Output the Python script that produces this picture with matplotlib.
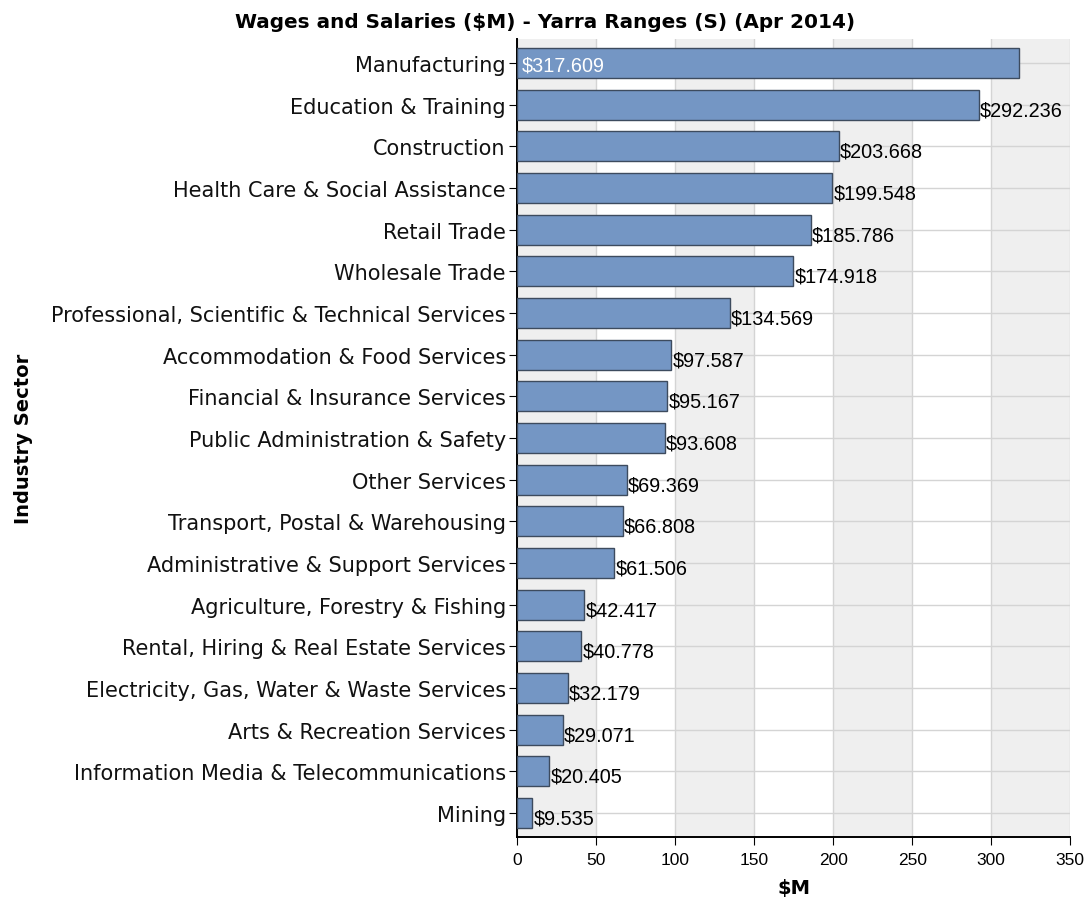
import matplotlib
matplotlib.use("Agg")
import matplotlib.pyplot as plt
import numpy as np

plt.rcParams["font.family"] = ["DejaVu Sans"]

sectors = [
    "Manufacturing",
    "Education & Training",
    "Construction",
    "Health Care & Social Assistance",
    "Retail Trade",
    "Wholesale Trade",
    "Professional, Scientific & Technical Services",
    "Accommodation & Food Services",
    "Financial & Insurance Services",
    "Public Administration & Safety",
    "Other Services",
    "Transport, Postal & Warehousing",
    "Administrative & Support Services",
    "Agriculture, Forestry & Fishing",
    "Rental, Hiring & Real Estate Services",
    "Electricity, Gas, Water & Waste Services",
    "Arts & Recreation Services",
    "Information Media & Telecommunications",
    "Mining",
]
wages = [317.609, 292.236, 203.668, 199.548, 185.786, 174.918, 134.569,
         97.587, 95.167, 93.608, 69.369, 66.808, 61.506, 42.417, 40.778,
         32.179, 29.071, 20.405, 9.535]
xticks = [0, 50, 100, 150, 200, 250, 300, 350]

fig = plt.figure(figsize=(10.87, 9.04), dpi=100)
ax = fig.add_axes([0.4756, 0.073, 0.509, 0.8828])

# alternating vertical bands
for i, x0 in enumerate(xticks[:-1]):
    if i % 2 == 0:
        ax.axvspan(x0, xticks[i + 1], color="#efefef", zorder=0, lw=0)

y = np.arange(len(sectors))
ax.barh(y, wages, height=0.72, color="#7496c4", edgecolor="#3d4b5e",
        linewidth=1.0, zorder=3)

for yi, v in zip(y, wages):
    if v > 310:
        ax.text(3, yi + 0.05, f"${v:.3f}", color="white", fontsize=14.3,
                family="Liberation Sans", va="center", ha="left", zorder=4)
    else:
        ax.text(v + 0.8, yi + 0.12, f"${v:.3f}", color="black", fontsize=14.3,
                family="Liberation Sans", va="center", ha="left", zorder=4)

ax.set_yticks(y)
ax.set_yticklabels(sectors, fontsize=15, color="#111111")
ax.set_ylim(len(sectors) - 0.42, -0.58)
ax.set_xlim(0, 350)
ax.set_xticks(xticks)
ax.set_xticklabels([str(t) for t in xticks], family="Liberation Sans",
                   fontsize=12.5)
ax.tick_params(axis="x", length=6, direction="out", pad=5)
ax.tick_params(axis="y", length=6, direction="out", pad=2)

ax.grid(True, color="#d4d4d4", lw=1.0, zorder=1)
ax.set_axisbelow(True)
for s in ["top", "right"]:
    ax.spines[s].set_visible(False)
ax.spines["left"].set_linewidth(1.4)
ax.spines["bottom"].set_linewidth(1.4)

ax.set_xlabel("$M", fontsize=14, fontweight="bold", labelpad=8)
fig.text(0.022, 0.515, "Industry Sector", rotation=90, fontsize=14,
         fontweight="bold", ha="center", va="center")
fig.text(0.501, 0.975, "Wages and Salaries ($M) - Yarra Ranges (S) (Apr 2014)",
         fontsize=14.4, fontweight="bold", ha="center", va="center")

fig.savefig("out.png", dpi=100)
